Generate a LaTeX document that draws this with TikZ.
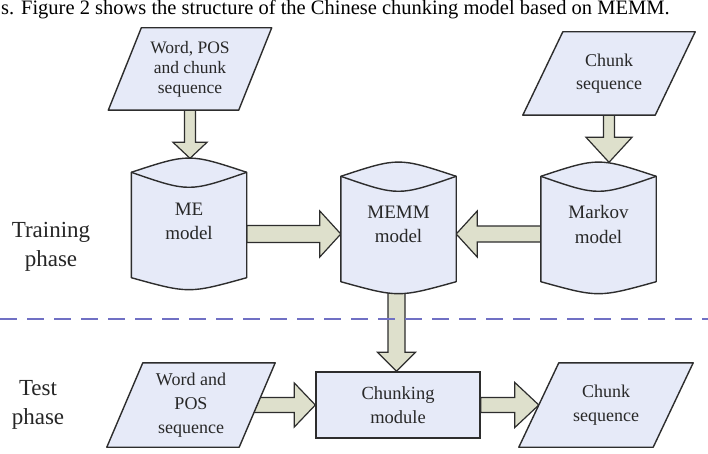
\documentclass[tikz,border=0pt]{standalone}
\usepackage{fontspec}
\setmainfont{Liberation Serif}
\usetikzlibrary{calc}
\pgfdeclarelayer{arr}
\pgfdeclarelayer{bg}
\pgfsetlayers{arr,bg,main}
\definecolor{boxfill}{RGB}{230,234,248}
\definecolor{arrfill}{RGB}{222,224,204}
\definecolor{edgecol}{RGB}{45,45,45}
\definecolor{dashcol}{RGB}{112,112,196}
\definecolor{txtcol}{RGB}{40,40,40}
\tikzset{
  shapeline/.style={draw=edgecol,line width=1.4pt,fill=boxfill,line join=round},
  arrowline/.style={draw=edgecol,line width=1.2pt,fill=arrfill,line join=miter},
  boxtext/.style={align=center,font=\fontsize{18}{22}\selectfont,text=txtcol,inner sep=0pt},
  phasetext/.style={align=center,font=\fontsize{23}{29}\selectfont,text=black!85,inner sep=0pt},
  paranode/.style n args={2}{minimum width=#1,minimum height=#2,inner sep=0pt,align=center,font=\fontsize{17.5}{20}\selectfont,text=txtcol},
  cylnode/.style={minimum width=115pt,minimum height=105pt,inner sep=0pt},
}
% parallelogram around node #1, half slant #2
\newcommand\paragram[2]{%
  \filldraw[shapeline] ($(#1.north west)+(#2,0)$) -- ($(#1.north east)+(#2,0)$) -- ($(#1.south east)-(#2,0)$) -- ($(#1.south west)-(#2,0)$) -- cycle;}
% cylinder body around node #1
\newcommand\cylbody[1]{%
  \filldraw[shapeline] (#1.north west) .. controls ($(#1.north)+(0,-19)$) .. (#1.north east) -- (#1.south east) .. controls ($(#1.south)+(0,16)$) .. (#1.south west) -- cycle;
  \draw[shapeline,fill=none] (#1.north west) .. controls ($(#1.north)+(0,20)$) .. (#1.north east);}
% block arrows: #1 start, #2 tip, #3 shaft half width, #4 head half width, #5 head length
\newcommand\arrowDown[5]{%
  \filldraw[arrowline] let \p1=(#1), \p2=(#2) in
    (\x1-#3pt,\y1) -- (\x1-#3pt,\y2+#5pt) -- (\x1-#4pt,\y2+#5pt) -- (\x1,\y2) -- (\x1+#4pt,\y2+#5pt) -- (\x1+#3pt,\y2+#5pt) -- (\x1+#3pt,\y1) -- cycle;}
\newcommand\arrowRight[5]{%
  \filldraw[arrowline] let \p1=(#1), \p2=(#2) in
    (\x1,\y1+#3pt) -- (\x2-#5pt,\y1+#3pt) -- (\x2-#5pt,\y1+#4pt) -- (\x2,\y1) -- (\x2-#5pt,\y1-#4pt) -- (\x2-#5pt,\y1-#3pt) -- (\x1,\y1-#3pt) -- cycle;}
\newcommand\arrowLeft[5]{%
  \filldraw[arrowline] let \p1=(#1), \p2=(#2) in
    (\x1,\y1+#3pt) -- (\x2+#5pt,\y1+#3pt) -- (\x2+#5pt,\y1+#4pt) -- (\x2,\y1) -- (\x2+#5pt,\y1-#4pt) -- (\x2+#5pt,\y1-#3pt) -- (\x1,\y1-#3pt) -- cycle;}
\begin{document}
\begin{tikzpicture}[x=1pt,y=-1pt]
\useasboundingbox (0,0) rectangle (708,454);
\begin{pgfonlayer}{arr}
  \fill[white] (0,0) rectangle (708,454);
\end{pgfonlayer}

% caption fragment
\node[anchor=base west,inner sep=0pt,font=\fontsize{20.5}{24}\selectfont,text=black] (cap) at (1,15)
  {s. Figure 2 shows the structure of the Chinese chunking model based on MEMM.};

% phase labels
\node[phasetext] (train) at (51,247) {Training\\phase};
\node[phasetext] (test) at (38,405) {Test\\phase};

% dashed separator
\coordinate (dl) at (0,319);
\coordinate (dr) at (708,319);
\draw[dashcol,line width=1.6pt,dash pattern=on 17pt off 10pt] (dl) -- (dr);

% input parallelograms
\node[paranode={130pt}{82pt}] (wps) at (190,69) {Word, POS\\and chunk\\sequence};
\node[paranode={132pt}{83pt},font=\fontsize{18}{23}\selectfont] (cs1) at (609,73.5) {Chunk\\sequence};
\node[paranode={132pt}{84pt},font=\fontsize{18}{24}\selectfont] (wp) at (191,405) {Word and\\POS\\sequence};
\node[paranode={134pt}{84pt},font=\fontsize{18}{24}\selectfont] (cs2) at (606,405) {Chunk\\sequence};

% cylinders
\node[cylnode] (me) at (189,225) {};
\node[cylnode] (memm) at (398.5,229) {};
\node[cylnode] (mk) at (598.5,229) {};
\node[boxtext,font=\fontsize{19}{23.5}\selectfont] (metxt) at (189,221.5) {ME\\model};
\node[boxtext,font=\fontsize{19}{24}\selectfont] (memmtxt) at (398.5,224) {MEMM\\model};
\node[boxtext,font=\fontsize{19}{25}\selectfont] (mktxt) at (598.5,224.5) {Markov\\model};

% chunking module
\node[draw=edgecol,line width=1.4pt,fill=boxfill,minimum width=164pt,minimum height=66pt,align=center,
      font=\fontsize{18.5}{24}\selectfont,text=txtcol,inner sep=0pt] (chk) at (398,405) {Chunking\\module};

\begin{pgfonlayer}{bg}
  \paragram{wps}{16.5}
  \paragram{cs1}{20}
  \paragram{wp}{18}
  \paragram{cs2}{20}
  \cylbody{me}
  \cylbody{memm}
  \cylbody{mk}
\end{pgfonlayer}

% connector end points
\coordinate (metop) at ($(me.north)+(0,-14)$);
\coordinate (mktop) at ($(mk.north)+(0,-14)$);
\coordinate (a3s) at ($(me.east)+(0,9)$);
\coordinate (a3e) at ($(memm.west)+(0,5)$);
\coordinate (a4s) at ($(mk.west)+(0,5)$);
\coordinate (a4e) at ($(memm.east)+(0,5)$);
\coordinate (a5s) at ($(memm.south)+(-2,0)$);
\coordinate (a6s) at ($(wp.east)+(-4,0)$);

\begin{pgfonlayer}{arr}
  \arrowDown{wps.south}{metop}{5.5}{17}{16}
  \arrowDown{cs1.south}{mktop}{5.5}{23}{25}
  \arrowRight{a3s}{a3e}{8.5}{23}{21}
  \arrowLeft{a4s}{a4e}{8}{23}{21}
  \arrowDown{a5s}{chk.north}{8.5}{19}{19}
  \arrowRight{a6s}{chk.west}{7.5}{22}{21}
  \arrowRight{chk.east}{cs2.west}{7.5}{22.5}{24}
\end{pgfonlayer}
\end{tikzpicture}
\end{document}
